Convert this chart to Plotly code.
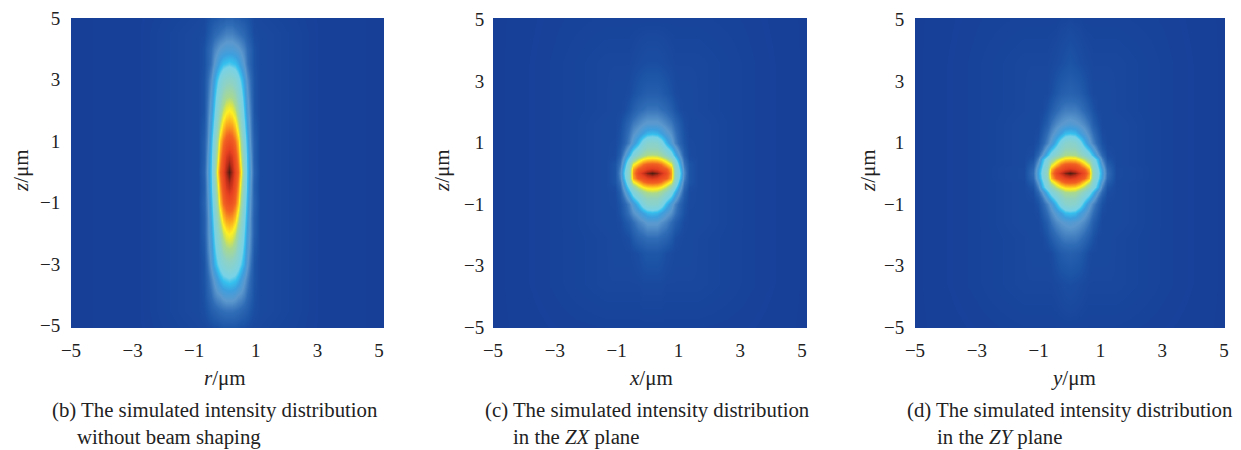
import plotly.graph_objects as go

W, H = 1241, 450

tick_vals = [-5, -3, -1, 1, 3, 5]

# ---- panel (b): intensity, half-profile in |r|
r_half = [0, .1, .2, .3, .4, .5, .6, .7, .8, 1, 1.5, 3, 5.03]
z_b = [5, 4.5, 4, 3.5, 3, 2.5, 2, 1.5, 1, .5, 0, -.5, -1, -1.5, -2, -2.5, -3, -3.5, -4, -4.5, -5.08]
I_b = [
    [.06, .06, .05, .05, .04, .035, .03, .02, .012, .01, .008, .002, 0],
    [.11, .11, .10, .09, .08, .07, .05, .03, .015, .012, .01, .002, 0],
    [.17, .17, .16, .15, .13, .11, .08, .05, .025, .012, .01, .002, 0],
    [.27, .26, .25, .22, .18, .14, .09, .05, .025, .012, .01, .002, 0],
    [.41, .40, .37, .32, .26, .20, .13, .07, .03, .012, .01, .002, 0],
    [.51, .50, .46, .39, .31, .23, .15, .08, .03, .012, .01, .002, 0],
    [.62, .60, .55, .46, .36, .26, .17, .09, .03, .012, .01, .002, 0],
    [.72, .71, .66, .56, .42, .30, .20, .10, .04, .012, .01, .002, 0],
    [.83, .81, .76, .67, .49, .34, .23, .11, .05, .012, .01, .002, 0],
    [.93, .90, .83, .73, .55, .38, .25, .13, .05, .012, .01, .002, 0],
    [1.0, .95, .87, .78, .62, .40, .26, .14, .06, .012, .01, .002, 0],
    [.93, .90, .83, .73, .55, .38, .25, .13, .05, .012, .01, .002, 0],
    [.84, .82, .77, .67, .49, .34, .23, .12, .06, .012, .01, .002, 0],
    [.73, .72, .67, .56, .43, .31, .21, .11, .05, .012, .01, .002, 0],
    [.63, .61, .56, .46, .37, .28, .19, .11, .05, .012, .01, .002, 0],
    [.52, .51, .47, .39, .32, .25, .17, .10, .04, .012, .01, .002, 0],
    [.40, .39, .36, .32, .27, .22, .15, .08, .03, .012, .01, .002, 0],
    [.28, .27, .26, .23, .19, .15, .11, .06, .03, .012, .01, .002, 0],
    [.17, .17, .16, .14, .13, .11, .08, .05, .025, .012, .01, .002, 0],
    [.09, .09, .085, .08, .07, .06, .05, .03, .02, .012, .01, .002, 0],
    [.03, .03, .03, .025, .02, .02, .015, .012, .01, .01, .008, .002, 0],
]

# ---- panels (c) and (d): half-profile in |x| or |y|
xy_half = [0, .15, .3, .45, .6, .75, .9, 1.05, 1.2, 1.5, 3, 5.03]
z_cd = [5, 3.6, 2.6, 2.1, 1.6, 1.3, 1, .8, .6, .45, .3, .15, 0,
        -.15, -.3, -.45, -.6, -.8, -1, -1.3, -1.6, -2.1, -2.6, -3.6, -5.08]
I_c = [
    [.006, .006, .006, .006, .006, .006, .006, .006, .006, .006, .004, 0],
    [.02, .02, .018, .015, .012, .01, .01, .01, .01, .01, .005, 0],
    [.05, .05, .045, .035, .025, .015, .012, .012, .012, .01, .005, 0],
    [.09, .09, .08, .07, .05, .03, .015, .012, .012, .01, .005, 0],
    [.15, .15, .14, .12, .10, .07, .04, .02, .012, .012, .005, 0],
    [.24, .23, .20, .16, .13, .09, .05, .025, .012, .012, .005, 0],
    [.39, .38, .33, .24, .17, .11, .06, .03, .014, .012, .005, 0],
    [.44, .44, .40, .32, .25, .17, .09, .04, .015, .012, .005, 0],
    [.54, .53, .49, .42, .33, .23, .13, .05, .015, .012, .005, 0],
    [.66, .65, .62, .55, .44, .30, .17, .07, .02, .012, .005, 0],
    [.80, .79, .76, .68, .60, .38, .21, .09, .03, .012, .005, 0],
    [.90, .88, .84, .80, .70, .42, .25, .11, .03, .012, .005, 0],
    [1.0, .97, .92, .85, .72, .42, .27, .12, .03, .012, .005, 0],
    [.90, .88, .84, .80, .70, .42, .25, .11, .03, .012, .005, 0],
    [.80, .79, .76, .68, .60, .38, .21, .09, .03, .012, .005, 0],
    [.66, .65, .62, .55, .44, .30, .17, .07, .02, .012, .005, 0],
    [.54, .53, .49, .42, .33, .23, .13, .05, .015, .012, .005, 0],
    [.44, .44, .40, .32, .25, .17, .09, .04, .015, .012, .005, 0],
    [.39, .38, .33, .24, .17, .11, .06, .03, .014, .012, .005, 0],
    [.24, .23, .20, .16, .13, .09, .05, .025, .012, .012, .005, 0],
    [.15, .15, .13, .11, .08, .05, .03, .015, .012, .012, .005, 0],
    [.08, .08, .07, .06, .04, .02, .014, .012, .012, .01, .005, 0],
    [.035, .035, .03, .02, .015, .012, .012, .012, .012, .01, .005, 0],
    [.012, .012, .012, .01, .01, .01, .01, .01, .01, .01, .005, 0],
    [.004, .004, .004, .004, .004, .004, .004, .004, .004, .004, .003, 0],
]
I_d = [
    [.01, .008, .008, .006, .006, .006, .006, .006, .006, .006, .004, 0],
    [.03, .025, .02, .015, .012, .01, .01, .01, .01, .01, .005, 0],
    [.06, .055, .05, .035, .02, .012, .012, .012, .012, .01, .005, 0],
    [.10, .10, .09, .07, .045, .025, .012, .012, .012, .01, .005, 0],
    [.16, .15, .14, .12, .09, .05, .025, .012, .012, .012, .005, 0],
    [.25, .24, .20, .16, .12, .08, .04, .015, .012, .012, .005, 0],
    [.40, .38, .33, .24, .16, .11, .06, .025, .012, .012, .005, 0],
    [.44, .44, .39, .31, .24, .17, .09, .04, .015, .012, .005, 0],
    [.53, .52, .47, .40, .32, .24, .14, .07, .02, .012, .005, 0],
    [.66, .65, .61, .54, .43, .33, .23, .11, .03, .012, .005, 0],
    [.80, .79, .75, .66, .56, .37, .26, .15, .05, .012, .005, 0],
    [.90, .88, .84, .79, .68, .42, .29, .19, .07, .014, .005, 0],
    [1.0, .97, .92, .85, .72, .44, .31, .20, .08, .014, .005, 0],
    [.90, .88, .84, .79, .68, .42, .29, .19, .07, .014, .005, 0],
    [.80, .79, .75, .66, .56, .37, .26, .15, .05, .012, .005, 0],
    [.66, .65, .61, .54, .43, .33, .23, .11, .03, .012, .005, 0],
    [.53, .52, .47, .40, .32, .24, .14, .07, .02, .012, .005, 0],
    [.44, .44, .39, .31, .24, .17, .09, .04, .015, .012, .005, 0],
    [.40, .38, .33, .24, .16, .11, .06, .025, .012, .012, .005, 0],
    [.25, .24, .20, .16, .12, .08, .04, .015, .012, .012, .005, 0],
    [.16, .15, .14, .12, .09, .05, .025, .012, .012, .012, .005, 0],
    [.10, .10, .09, .07, .045, .025, .012, .012, .012, .01, .005, 0],
    [.055, .05, .045, .03, .015, .012, .012, .012, .012, .01, .005, 0],
    [.02, .018, .015, .012, .01, .01, .01, .01, .01, .01, .005, 0],
    [.005, .005, .005, .005, .005, .005, .005, .005, .005, .005, .003, 0],
]

colors = [
    [0, "#173f98"], [.012, "#19499f"], [.03, "#1c54a6"], [.08, "#2f6cb6"], [.14, "#5c98cd"],
    [.20, "#3d9fde"], [.25, "#35c0ee"], [.29, "#78d2e6"], [.42, "#8fd2c4"], [.52, "#a8d890"],
    [.58, "#dfe640"], [.62, "#fff022"], [.70, "#fba81e"], [.78, "#f26222"], [.88, "#e64020"],
    [.94, "#b82c18"], [1, "#501c10"],
]

FONT = "Liberation Serif"
INK = "#222222"
TICK = dict(family=FONT, size=19, color=INK)
TITLE = dict(family=FONT, size=21, color=INK)


def mirror(xs, rows, shift):
    """Two-sided grid from the half profile; the image's centre sits at `shift` on the tick scale."""
    x = [-v + shift for v in xs[:0:-1]] + [v + shift for v in xs]
    z = [row[:0:-1] + row for row in rows]
    return x, z


panels = [
    dict(im_l=74, im_r=384, t0=71, t1=379, t5=18.3, tm5=325.5, y_len=6, x_name="r", half=r_half, ys=z_b, rows=I_b,
         ytitle_px=21, xtitle_px=225),
    dict(im_l=497, im_r=807, t0=493, t1=802, t5=19.5, tm5=327, y_len=4, x_name="x", half=xy_half, ys=z_cd, rows=I_c,
         ytitle_px=442, xtitle_px=651),
    dict(im_l=915, im_r=1225, t0=915, t1=1224, t5=19.5, tm5=327, y_len=6, x_name="y", half=xy_half, ys=z_cd, rows=I_d,
         ytitle_px=868, xtitle_px=1073),
]

TOP, BOT = 18, 328     # image rows in px

fig = go.Figure()
for i, p in enumerate(panels):
    n = "" if i == 0 else str(i + 1)
    unit = (p["t1"] - p["t0"]) / 10
    left = min(p["t0"], p["im_l"])
    xmin = -5 + (left - p["t0"]) / unit
    xmax = -5 + (p["im_r"] - p["t0"]) / unit
    centre = -5 + ((p["im_l"] + p["im_r"]) / 2 - p["t0"]) / unit
    x, z = mirror(p["half"], p["rows"], centre)
    fig.add_trace(go.Heatmap(
        x=x, y=p["ys"], z=z, zmin=0, zmax=1, zsmooth="best",
        colorscale=colors, showscale=False, xaxis="x" + n, yaxis="y" + n,
    ))
    uy = (p["tm5"] - p["t5"]) / 10
    fig.update_layout({
        "xaxis" + n: dict(
            domain=[left / W, p["im_r"] / W], range=[xmin, xmax], anchor="y" + n,
            tickmode="array", tickvals=tick_vals, ticks="outside", ticklen=5,
            tickcolor="rgba(0,0,0,0)", tickfont=TICK, automargin=False,
            showgrid=False, zeroline=False, showline=False,
        ),
        "yaxis" + n: dict(
            domain=[1 - BOT / H, 1 - TOP / H],
            range=[5 - (BOT - p["t5"]) / uy, 5 + (p["t5"] - TOP) / uy], anchor="x" + n,
            tickmode="array", tickvals=tick_vals, ticks="outside", ticklen=p["y_len"],
            tickcolor="rgba(0,0,0,0)", tickfont=TICK, automargin=False,
            showgrid=False, zeroline=False, showline=False,
        ),
    })
    fig.add_annotation(
        x=p["xtitle_px"] / W, y=1 - 378 / H, xref="paper", yref="paper",
        text=f"<i>{p['x_name']}</i>/μm", showarrow=False, font=TITLE,
        xanchor="center", yanchor="middle",
    )
    fig.add_annotation(
        x=p["ytitle_px"] / W, y=1 - 171 / H, xref="paper", yref="paper",
        text="<i>z</i>/μm", showarrow=False, font=TITLE, textangle=-90,
        xanchor="center", yanchor="middle",
    )

captions = [
    (50, 410, "(b) The simulated intensity distribution"),
    (75, 437, "without beam shaping"),
    (483, 410, "(c) The simulated intensity distribution"),
    (511, 437, "in the <i>ZX</i> plane"),
    (905, 410, "(d) The simulated intensity distribution"),
    (935, 437, "in the <i>ZY</i> plane"),
]
for cx, cy, text in captions:
    fig.add_annotation(
        x=cx / W, y=1 - cy / H, xref="paper", yref="paper", text=text, showarrow=False,
        xanchor="left", yanchor="middle", font=dict(family=FONT, size=20.8, color=INK),
    )

fig.update_layout(
    width=W, height=H, autosize=False, margin=dict(l=0, r=0, t=0, b=0),
    paper_bgcolor="white", plot_bgcolor="white", showlegend=False,
)
fig.write_html(
    "out.html",
    config={"displayModeBar": False},
    post_script="document.body.style.margin='0';document.body.style.overflow='hidden';",
)
